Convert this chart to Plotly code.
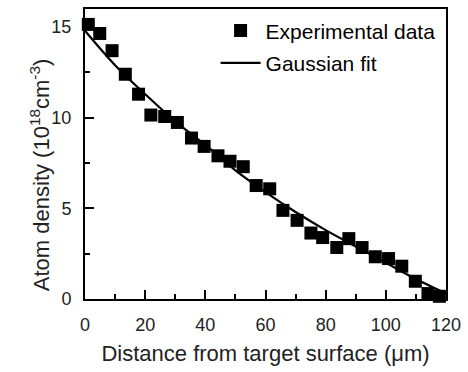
import plotly.graph_objects as go

# Experimental data
exp_x = [1.1, 4.9, 9.0, 13.4, 17.8, 21.9, 26.5, 30.7, 35.4, 39.6, 44.2, 48.2, 52.6,
         56.9, 61.4, 65.8, 70.5, 75.1, 79.0, 83.7, 87.7, 92.1, 96.5, 100.9, 105.3,
         109.8, 114.0, 117.8]
exp_y = [15.15, 14.65, 13.7, 12.4, 11.3, 10.15, 10.07, 9.74, 8.88, 8.42, 7.9, 7.6, 7.3,
         6.26, 6.08, 4.89, 4.34, 3.64, 3.39, 2.84, 3.33, 2.84, 2.33, 2.23, 1.81,
         0.98, 0.3, 0.15]

# Gaussian fit curve
fit_x = [0, 10, 20, 30, 40, 50, 60, 70, 80, 90, 100, 110, 120]
fit_y = [14.8, 12.9, 11.3, 9.8, 8.5, 7.1, 5.9, 4.8, 3.8, 2.9, 2.0, 1.1, 0.3]

x_ticks = [0, 20, 40, 60, 80, 100, 120]
y_ticks = [0, 5, 10, 15]

fig = go.Figure()
fig.add_trace(go.Scatter(
    x=exp_x, y=exp_y, mode="markers", name="Experimental data",
    marker=dict(symbol="square", size=13, color="black"),
    legendgroup="a", cliponaxis=False))
fig.add_trace(go.Scatter(
    x=fit_x, y=fit_y, mode="lines", name="Gaussian fit",
    line=dict(color="black", width=2.2, shape="spline"),
    legendgroup="b"))

font_family = "Liberation Sans, Arial, sans-serif"
fig.update_layout(
    width=468, height=372,
    margin=dict(l=85, r=18, t=7, b=73),
    paper_bgcolor="white", plot_bgcolor="white",
    font=dict(family=font_family, color="black", size=18),
    showlegend=True,
    legend=dict(x=0.985, y=0.995, xanchor="right", yanchor="top",
                font=dict(size=21, color="black"), bgcolor="rgba(0,0,0,0)",
                tracegroupgap=2, itemwidth=40),
    xaxis=dict(range=[0, 120], tickvals=x_ticks, ticks="inside", ticklen=9,
               tickwidth=1.5, tickcolor="black",
               minor=dict(ticks="inside", ticklen=5, tickwidth=1.5, dtick=10, tickcolor="black"),
               showline=True, linecolor="black", linewidth=2, mirror=True,
               showgrid=False, zeroline=False,
               tickfont=dict(size=18, color="#222"), ticklabelstandoff=8,
               title=dict(text="Distance from target surface (\u03bcm)",
                          font=dict(size=22, color="#222"), standoff=12)),
    yaxis=dict(range=[0, 16], tickvals=y_ticks, ticks="inside", ticklen=9,
               tickwidth=1.5, tickcolor="black",
               minor=dict(ticks="inside", ticklen=5, tickwidth=1.5, dtick=2.5, tickcolor="black"),
               showline=True, linecolor="black", linewidth=2, mirror=True,
               showgrid=False, zeroline=False,
               tickfont=dict(size=18, color="#222"), ticklabelstandoff=8),
    annotations=[dict(
        text="Atom density (10<sup>18</sup>cm<sup>-3</sup>)",
        textangle=-90, xref="paper", yref="paper", x=-0.125, y=0.43,
        xanchor="center", yanchor="middle", showarrow=False,
        font=dict(size=22, color="#222"))],
)

fig.write_html("out.html")
